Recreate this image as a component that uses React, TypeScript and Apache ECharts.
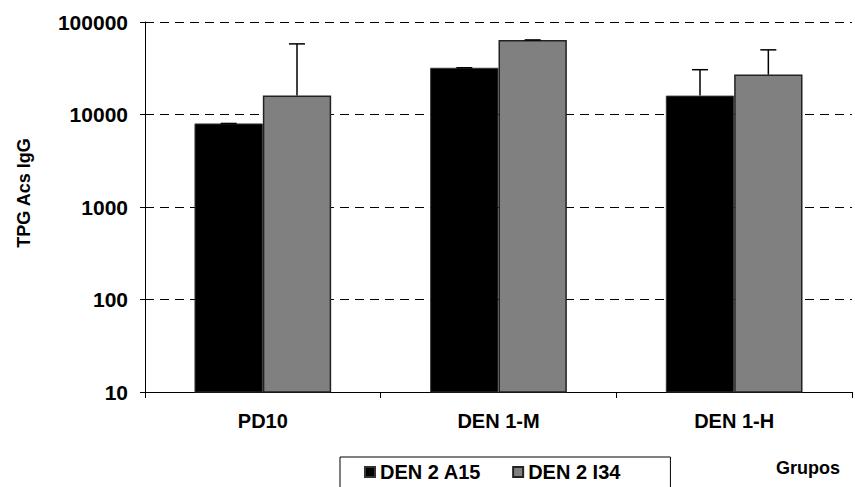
import React, { useEffect, useRef } from "react";
import * as echarts from "echarts";

const categories = ["PD10", "DEN 1-M", "DEN 1-H"];
const seriesNames = ["DEN 2 A15", "DEN 2 I34"];
const a15Values = [8000, 32000, 16000];
const i34Values = [16000, 64000, 27000];
const a15Errors = [0, 0, 14500];
const i34Errors = [42000, 0, 23000];
const yMin = 10;
const yMax = 100000;
const yAxisTitle = "TPG Acs IgG";
const xAxisTitle = "Grupos";

const FONT = "'Liberation Sans', Arial, sans-serif";
const BAR_FRAC = 0.29;

export default function App() {
  const ref = useRef<HTMLDivElement>(null);
  useEffect(() => {
    if (!ref.current) return;
    const chart = echarts.init(ref.current, null, { renderer: "svg" });

    const makeErr = (vals: number[], errs: number[], sign: number) => ({
      type: "custom",
      name: "err" + sign,
      z: 10,
      silent: true,
      data: vals.map((v, i) => [i, v, errs[i]]),
      encode: { x: 0, y: 1 },
      renderItem: (params: any, api: any) => {
        const ci = api.value(0);
        const v = api.value(1);
        const e = api.value(2);
        const p0 = api.coord([0, v]);
        const p1 = api.coord([1, v]);
        const band = p1[0] - p0[0];
        const base = api.coord([ci, v]);
        const top = api.coord([ci, v + e]);
        const x = base[0] + sign * band * BAR_FRAC / 2;
        const cap = 8;
        return {
          type: "group",
          children: [
            {
              type: "line",
              shape: { x1: x, y1: base[1], x2: x, y2: top[1] },
              style: { stroke: "#000", lineWidth: 1.5 },
            },
            {
              type: "line",
              shape: { x1: x - cap, y1: top[1], x2: x + cap, y2: top[1] },
              style: { stroke: "#000", lineWidth: 1.5 },
            },
          ],
        };
      },
    });

    chart.setOption({
      animation: false,
      backgroundColor: "#fff",
      grid: { left: 145, right: 3, top: 22, bottom: 95, containLabel: false },
      legend: {
        data: seriesNames,
        left: 340,
        top: 457,
        orient: "horizontal",
        icon: "rect",
        itemWidth: 10,
        itemHeight: 10,
        itemGap: 31,
        itemTextGap: 10,
        padding: [5, 50, 12, 24],
        borderColor: "#000",
        borderWidth: 1,
        textStyle: { fontFamily: FONT, fontWeight: "bold", fontSize: 20, color: "#000" },
      },
      xAxis: {
        type: "category",
        data: categories,
        axisLine: { lineStyle: { color: "#000", width: 1 } },
        axisTick: { show: true, length: 6, alignWithLabel: false, lineStyle: { color: "#000" } },
        axisLabel: {
          margin: 19,
          fontFamily: FONT,
          fontWeight: "bold",
          fontSize: 20,
          color: "#000",
        },
        splitLine: { show: false },
      },
      yAxis: {
        type: "log",
        logBase: 10,
        min: yMin,
        max: yMax,
        axisLine: { show: true, lineStyle: { color: "#000", width: 1 } },
        axisTick: { show: true, length: 5, lineStyle: { color: "#000" } },
        minorTick: { show: false },
        axisLabel: {
          margin: 17,
          fontFamily: FONT,
          fontWeight: "bold",
          fontSize: 21,
          color: "#000",
          formatter: (v: number) => String(Math.round(v)),
        },
        splitLine: {
          show: true,
          lineStyle: { color: "#000", width: 1, type: [9, 6] },
        },
      },
      series: [
        {
          name: seriesNames[0],
          type: "bar",
          data: a15Values,
          barWidth: (BAR_FRAC * 100).toFixed(0) + "%",
          barGap: "0%",
          itemStyle: { color: "#000", borderColor: "#333", borderWidth: 1 },
        },
        {
          name: seriesNames[1],
          type: "bar",
          data: i34Values,
          barWidth: (BAR_FRAC * 100).toFixed(0) + "%",
          barGap: "0%",
          itemStyle: { color: "#808080", borderColor: "#222", borderWidth: 1.5 },
        },
        makeErr(a15Values, a15Errors, -1),
        makeErr(i34Values, i34Errors, 1),
      ],
      graphic: [
        {
          type: "text",
          x: 24,
          y: 193,
          rotation: Math.PI / 2,
          style: {
            text: yAxisTitle,
            fontFamily: FONT,
            fontWeight: "bold",
            fontSize: 18,
            fill: "#000",
            align: "center",
            verticalAlign: "middle",
          },
        },
        {
          type: "text",
          left: 776,
          top: 459,
          style: {
            text: xAxisTitle,
            fontFamily: FONT,
            fontWeight: "bold",
            fontSize: 18,
            fill: "#000",
          },
        },
      ],
    });
    return () => chart.dispose();
  }, []);

  return (
    <div
      ref={ref}
      style={{ position: "fixed", left: 0, top: 0, width: 855, height: 487, background: "#fff" }}
    />
  );
}
